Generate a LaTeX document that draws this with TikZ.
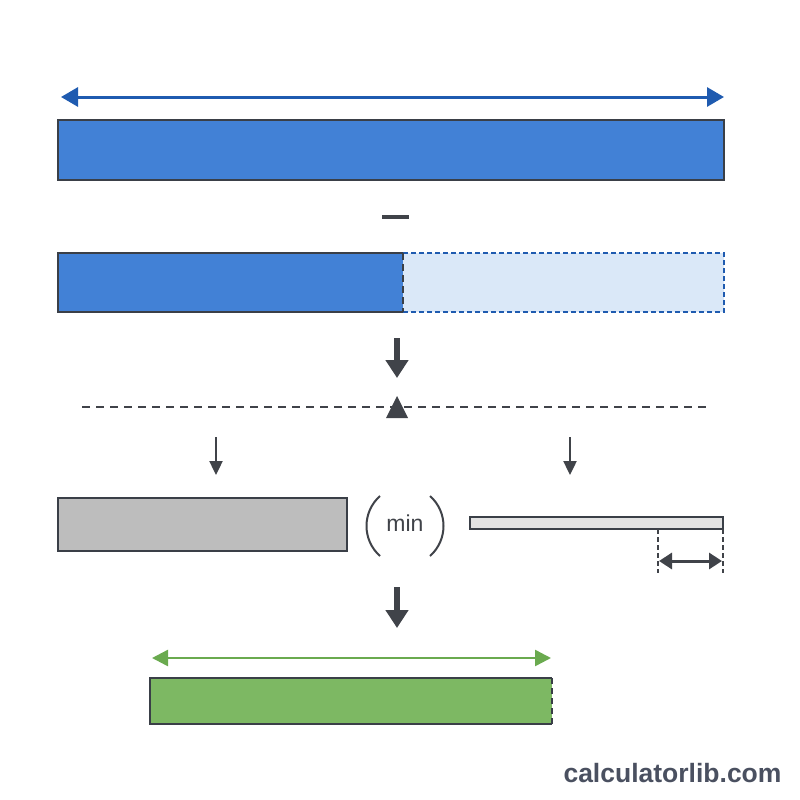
\documentclass[tikz,border=0pt]{standalone}
\usepackage{fontspec}
\setmainfont{Liberation Sans}
\usetikzlibrary{arrows.meta}
\definecolor{dblue}{HTML}{1F5BB0}
\definecolor{mblue}{HTML}{4281D6}
\definecolor{lblue}{HTML}{DAE8F8}
\definecolor{edge}{HTML}{3A3F47}
\definecolor{agray}{HTML}{404349}
\definecolor{mgray}{HTML}{BDBDBD}
\definecolor{lgray}{HTML}{E2E2E2}
\definecolor{dgreen}{HTML}{6AAA4F}
\definecolor{mgreen}{HTML}{7DB863}
\definecolor{wm}{HTML}{4A5060}
\tikzset{
  bar/.style={draw=edge, line width=1.8pt},
  bigarrow/.style={draw=agray, line width=5.5pt, -{Triangle[width=22pt,length=18pt]}},
  smallarrow/.style={draw=agray, line width=2.4pt, -{Triangle[width=13pt,length=14pt]}},
  dimarrow/.style={line width=3pt, {Triangle[width=19pt,length=17pt]}-{Triangle[width=19pt,length=17pt]}},
}
\begin{document}
\begin{tikzpicture}[x=1pt,y=-1pt]
\useasboundingbox[fill=white] (0,0) rectangle (800,800);
% top arrow
\coordinate (ta1) at (61,97); \coordinate (ta2) at (724,97);
\draw[dimarrow, dblue] (ta1) -- (ta2);
% full bar
\filldraw[bar, fill=mblue] (58,120) rectangle (724,180);
% minus
\draw[agray, line width=3.5pt] (382,217) -- (409,217);
% second bar
\fill[lblue] (403,253) rectangle (724,312);
\draw[dblue, line width=1.8pt, dash pattern=on 5pt off 3pt] (403,253) -- (724,253) -- (724,312) -- (403,312);
\filldraw[bar, fill=mblue] (403,253) -- (58,253) -- (58,312) -- (403,312);
\draw[edge, line width=2pt, dash pattern=on 7pt off 4pt] (403,253) -- (403,312);
% thick arrow 1
\coordinate (a1s) at (397,338); \coordinate (a1e) at (397,378);
\draw[bigarrow] (a1s) -- (a1e);
% dashed line with triangle
\draw[agray, line width=2pt, dash pattern=on 8pt off 6pt] (82,407) -- (708,407);
\fill[agray] (397,396) -- (408,418) -- (386,418) -- cycle;
% small arrows
\coordinate (s1s) at (216,437); \coordinate (s1e) at (216,475);
\coordinate (s2s) at (570,437); \coordinate (s2e) at (570,475);
\draw[smallarrow] (s1s) -- (s1e);
\draw[smallarrow] (s2s) -- (s2e);
% gray bar
\filldraw[bar, fill=mgray] (58,498) rectangle (347,551);
% min
\node[text=agray, font=\fontsize{23}{23}\selectfont] (min) at (405,523) {min};
\draw[agray, line width=2pt] (380,496) .. controls (362,512) and (362,540) .. (380,556);
\draw[agray, line width=2pt] (430,496) .. controls (448,512) and (448,540) .. (430,556);
% thin bar
\filldraw[bar, fill=lgray] (470,517) rectangle (723,529);
\draw[agray, line width=1.5pt, dash pattern=on 5pt off 3pt] (658,529) -- (658,573);
\draw[agray, line width=1.5pt, dash pattern=on 5pt off 3pt] (723,529) -- (723,573);
\coordinate (d1) at (659,561); \coordinate (d2) at (722,561);
\draw[agray, line width=3pt, {Triangle[width=16pt,length=13pt]}-{Triangle[width=16pt,length=13pt]}] (d1) -- (d2);
% thick arrow 2
\coordinate (a2s) at (397,587); \coordinate (a2e) at (397,628);
\draw[bigarrow] (a2s) -- (a2e);
% green arrow
\coordinate (g1) at (152,658); \coordinate (g2) at (551,658);
\draw[dgreen, line width=2.5pt, {Triangle[width=16pt,length=16pt]}-{Triangle[width=16pt,length=16pt]}] (g1) -- (g2);
% green bar
\fill[mgreen] (150,678) rectangle (552,724);
\draw[bar] (552,678) -- (150,678) -- (150,724) -- (552,724);
\draw[edge, line width=2pt, dash pattern=on 6pt off 4pt] (552,678) -- (552,724);
% watermark
\node[anchor=east, text=wm, font=\bfseries\fontsize{26.5}{26.5}\selectfont] (wmk) at (785,773) {calculatorlib.com};
\end{tikzpicture}
\end{document}
